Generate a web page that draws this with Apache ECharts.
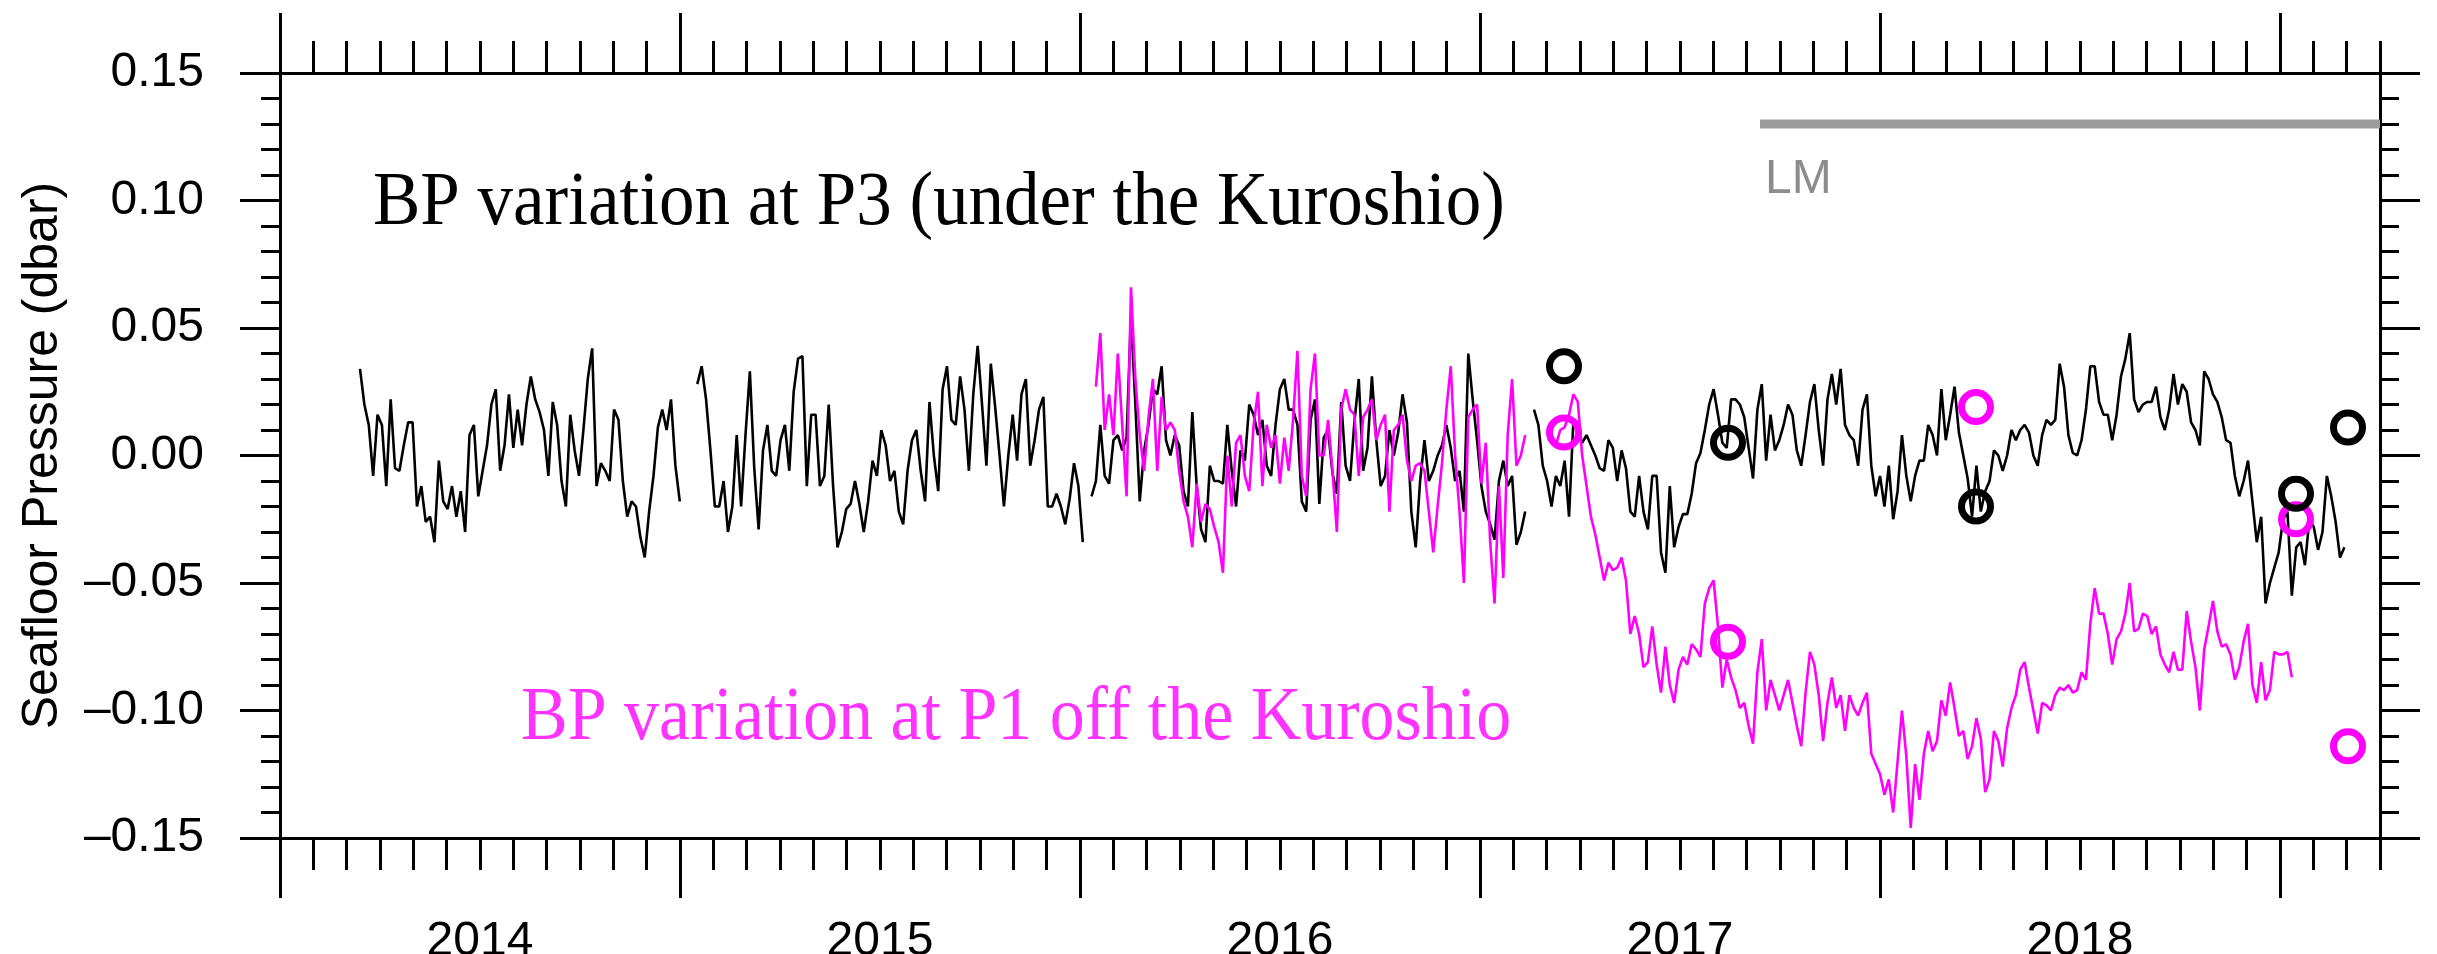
<!DOCTYPE html>
<html>
<head>
<meta charset="utf-8">
<title>Seafloor pressure at P1 and P3</title>
<script src="https://cdn.jsdelivr.net/npm/echarts@6/dist/echarts.min.js"></script>
<style>
  html, body { margin: 0; padding: 0; background: #ffffff; }
  #chart { width: 2437px; height: 954px; }
</style>
</head>
<body>
<div id="chart"></div>
<script>
// Bottom-pressure records (dbar), one sample every 4 days.
const SERIES_START = 2014.2;   // decimal year of the first P3 sample
const STEP_DAYS = 4;
const P1_START_INDEX = 168;    // P1 starts this many steps after P3

// P3, under the Kuroshio (null = no data)
const p3Values = [
  0.034, 0.020, 0.012, -0.008, 0.016, 0.012, -0.012, 0.022, -0.005, -0.006,
  0.004, 0.013, 0.013, -0.020, -0.012, -0.026, -0.024, -0.034, -0.002, -0.018,
  -0.021, -0.012, -0.024, -0.014, -0.030, 0.008, 0.012, -0.016, -0.006, 0.004,
  0.020, 0.026, -0.006, 0.004, 0.024, 0.003, 0.018, 0.004, 0.020, 0.031,
  0.022, 0.017, 0.010, -0.008, 0.021, 0.012, -0.010, -0.020, 0.016, 0.002,
  -0.008, 0.010, 0.030, 0.042, -0.012, -0.003, -0.006, -0.010, 0.018, 0.014,
  -0.010, -0.024, -0.018, -0.020, -0.032, -0.040, -0.022, -0.008, 0.011, 0.018,
  0.010, 0.022, -0.004, -0.018, null, null, null, 0.028, 0.035, 0.022,
  0.002, -0.020, -0.020, -0.010, -0.030, -0.020, 0.008, -0.020, 0.008, 0.033,
  -0.005, -0.029, 0.002, 0.012, -0.006, -0.008, 0.006, 0.012, -0.006, 0.025,
  0.038, 0.039, -0.012, 0.016, 0.016, -0.012, -0.008, 0.020, -0.012, -0.036,
  -0.030, -0.021, -0.019, -0.010, -0.019, -0.030, -0.018, -0.002, -0.008, 0.010,
  0.004, -0.010, -0.006, -0.022, -0.027, -0.006, 0.006, 0.010, -0.006, -0.018,
  0.021, 0.000, -0.014, 0.026, 0.035, 0.014, 0.012, 0.031, 0.018, -0.006,
  0.024, 0.043, 0.020, -0.004, 0.036, 0.019, 0.000, -0.020, 0.000, 0.016,
  -0.002, 0.024, 0.030, -0.004, 0.006, 0.018, 0.023, -0.020, -0.020, -0.015,
  -0.020, -0.027, -0.017, -0.003, -0.012, -0.034, null, -0.016, -0.010, 0.012,
  -0.008, -0.011, 0.006, 0.008, 0.002, 0.007, 0.055, 0.020, -0.018, 0.002,
  0.012, 0.026, 0.024, 0.035, 0.006, 0.000, 0.008, 0.004, -0.014, -0.020,
  0.017, -0.012, -0.029, -0.034, -0.004, -0.010, -0.010, -0.011, 0.012, -0.006,
  -0.020, 0.002, -0.002, 0.020, 0.016, 0.008, 0.014, -0.004, -0.008, 0.012,
  0.026, 0.030, 0.018, 0.018, 0.012, -0.018, -0.022, 0.014, 0.022, -0.019,
  0.007, 0.010, -0.007, -0.015, 0.021, -0.004, -0.010, 0.013, 0.030, -0.006,
  0.003, 0.031, 0.006, -0.012, -0.008, 0.010, 0.000, 0.009, 0.024, 0.013,
  -0.022, -0.036, -0.010, 0.006, -0.010, -0.006, 0.000, 0.004, 0.012, 0.003,
  -0.010, -0.006, -0.022, 0.040, 0.022, 0.006, -0.012, -0.022, -0.027, -0.033,
  -0.010, -0.002, -0.012, -0.008, -0.035, -0.030, -0.022, null, 0.018, 0.012,
  -0.004, -0.010, -0.020, -0.008, -0.012, -0.002, -0.024, 0.014, 0.009, 0.005,
  0.008, 0.004, 0.000, -0.005, -0.006, 0.006, 0.003, -0.010, 0.002, -0.005,
  -0.022, -0.024, -0.008, -0.022, -0.029, -0.008, -0.008, -0.038, -0.046, -0.012,
  -0.036, -0.028, -0.023, -0.023, -0.015, -0.003, 0.001, 0.010, 0.020, 0.026,
  0.016, 0.005, 0.003, 0.022, 0.022, 0.020, 0.015, 0.003, -0.009, 0.018,
  0.028, -0.002, 0.016, 0.002, 0.006, 0.012, 0.020, 0.016, 0.002, -0.004,
  0.008, 0.021, 0.028, 0.010, -0.004, 0.022, 0.032, 0.020, 0.034, 0.012,
  0.008, 0.006, -0.004, 0.018, 0.024, -0.004, -0.016, -0.008, -0.020, -0.004,
  -0.025, -0.014, 0.008, -0.008, -0.018, -0.008, -0.002, -0.002, 0.012, 0.008,
  0.000, 0.026, 0.006, 0.016, 0.027, 0.009, 0.000, -0.009, -0.024, -0.004,
  -0.022, -0.014, -0.010, 0.002, 0.000, -0.006, 0.000, 0.010, 0.006, 0.010,
  0.012, 0.009, 0.000, -0.004, 0.008, 0.014, 0.012, 0.014, 0.036, 0.027,
  0.008, 0.001, 0.000, 0.006, 0.018, 0.035, 0.035, 0.021, 0.016, 0.016,
  0.006, 0.016, 0.031, 0.038, 0.048, 0.022, 0.017, 0.020, 0.021, 0.021,
  0.027, 0.015, 0.010, 0.018, 0.032, 0.020, 0.028, 0.025, 0.013, 0.010,
  0.004, 0.033, 0.030, 0.024, 0.021, 0.015, 0.006, 0.005, -0.008, -0.016,
  -0.010, -0.002, -0.018, -0.034, -0.024, -0.058, -0.050, -0.044, -0.038, -0.025,
  -0.022, -0.055, -0.036, -0.034, -0.043, -0.025, -0.028, -0.037, -0.030, -0.008,
  -0.016, -0.026, -0.040, -0.036
];

// P1, off the Kuroshio (null = no data)
const p1Values = [
  0.027, 0.048, 0.010, 0.024, 0.008, 0.040, 0.012, -0.016, 0.066, 0.030,
  0.008, -0.006, 0.015, 0.030, -0.006, 0.023, 0.010, 0.013, 0.010, -0.006,
  -0.018, -0.024, -0.036, -0.011, -0.026, -0.019, -0.021, -0.028, -0.034, -0.046,
  0.000, -0.020, 0.005, 0.008, -0.008, -0.014, 0.012, 0.025, -0.012, 0.012,
  0.003, 0.008, -0.011, 0.007, -0.006, 0.014, 0.041, -0.008, -0.016, 0.026,
  0.040, 0.000, 0.000, 0.014, -0.006, -0.030, 0.018, 0.026, 0.018, 0.016,
  -0.008, 0.015, 0.018, 0.022, 0.006, 0.012, 0.016, -0.022, 0.010, 0.012,
  0.016, -0.002, -0.010, -0.004, -0.003, -0.006, -0.022, -0.038, -0.020, -0.003,
  0.018, 0.035, 0.000, -0.022, -0.050, 0.015, 0.018, 0.020, -0.011, 0.005,
  -0.034, -0.058, -0.012, -0.048, 0.008, 0.030, -0.004, 0.000, 0.008, null,
  null, null, null, 0.010, 0.008, 0.004, 0.010, 0.011, 0.016, 0.024,
  0.021, 0.000, -0.012, -0.024, -0.031, -0.040, -0.049, -0.042, -0.045, -0.044,
  -0.040, -0.049, -0.070, -0.063, -0.070, -0.083, -0.081, -0.067, -0.082, -0.093,
  -0.075, -0.090, -0.097, -0.084, -0.079, -0.082, -0.074, -0.076, -0.079, -0.058,
  -0.052, -0.049, -0.067, -0.091, -0.080, -0.087, -0.092, -0.099, -0.097, -0.106,
  -0.113, -0.085, -0.072, -0.100, -0.088, -0.094, -0.100, -0.094, -0.088, -0.097,
  -0.106, -0.114, -0.093, -0.077, -0.082, -0.094, -0.112, -0.097, -0.087, -0.099,
  -0.094, -0.108, -0.094, -0.099, -0.102, -0.097, -0.093, -0.117, -0.121, -0.125,
  -0.133, -0.127, -0.140, -0.120, -0.100, -0.118, -0.146, -0.121, -0.135, -0.117,
  -0.108, -0.116, -0.112, -0.096, -0.102, -0.089, -0.099, -0.110, -0.108, -0.119,
  -0.114, -0.103, -0.111, -0.132, -0.127, -0.108, -0.112, -0.122, -0.107, -0.099,
  -0.094, -0.084, -0.081, -0.091, -0.100, -0.109, -0.097, -0.098, -0.100, -0.094,
  -0.091, -0.092, -0.090, -0.093, -0.092, -0.085, -0.088, -0.066, -0.052, -0.062,
  -0.062, -0.070, -0.082, -0.072, -0.069, -0.062, -0.050, -0.069, -0.068, -0.062,
  -0.063, -0.070, -0.067, -0.078, -0.082, -0.085, -0.077, -0.084, -0.084, -0.061,
  -0.073, -0.083, -0.100, -0.076, -0.067, -0.057, -0.069, -0.075, -0.074, -0.078,
  -0.088, -0.083, -0.073, -0.066, -0.090, -0.097, -0.081, -0.096, -0.092, -0.077,
  -0.078, -0.078, -0.077, -0.087
];

// Shipboard survey reference values (circles)
const surveyYears = [2017.21, 2017.62, 2018.24, 2019.04, 2019.17];
const p3Survey = [0.035, 0.005, -0.020, -0.015, 0.011];
const p1Survey = [0.009, -0.073, 0.019, -0.025, -0.114];

// Kuroshio large-meander period
const lmSpan = [2017.70, 2019.25];
const lmLevel = 0.13;

// Axis extents and labels
const xRange = [2014, 2019.25];
const yRange = [-0.15, 0.15];
const yearLabels = [2014, 2015, 2016, 2017, 2018];

const SANS = '"Liberation Sans", Arial, Helvetica, sans-serif';
const SERIF = '"Liberation Serif", "Times New Roman", serif';

function toTime(index) {
  return SERIES_START + index * STEP_DAYS / 365.25;
}
function buildSeries(values, offset) {
  return values.map((v, i) => [toTime(offset + i), v === null ? '-' : v]);
}

const yearTicks = [];
for (let y = xRange[0]; y <= Math.floor(xRange[1]); y++) yearTicks.push(y);
const monthTicks = [];
for (let k = 0; xRange[0] + k / 12 <= xRange[1] + 1e-9; k++) monthTicks.push(xRange[0] + k / 12);
const yearLabelPos = yearLabels.map(y => y + 0.5);

const black = '#000000';
const magenta = '#ff00ff';

function xAxisCfg(grid, pos, ticks, len, withLabels, withLine) {
  return {
    gridIndex: grid, type: 'value', position: pos,
    min: xRange[0], max: xRange[1],
    axisLine: { show: withLine, onZero: false, lineStyle: { color: black, width: 3 } },
    axisTick: { show: true, inside: false, length: len, customValues: ticks,
                lineStyle: { color: black, width: 3 } },
    axisLabel: withLabels ? {
      show: true, customValues: yearLabelPos, margin: 80,
      formatter: v => String(Math.floor(v)),
      fontFamily: SANS, fontSize: 48, color: black
    } : { show: false },
    splitLine: { show: false }
  };
}

function yAxisCfg(pos, withLabels) {
  const cfg = {
    gridIndex: 0, type: 'value', position: pos,
    min: yRange[0], max: yRange[1], interval: 0.05,
    axisLine: { show: true, onZero: false, lineStyle: { color: black, width: 3 } },
    axisTick: { show: true, inside: false, length: 40, lineStyle: { color: black, width: 3 } },
    minorTick: { show: true, splitNumber: 5, length: 19, lineStyle: { color: black, width: 3 } },
    splitLine: { show: false },
    minorSplitLine: { show: false },
    axisLabel: withLabels ? {
      show: true, margin: 76, fontFamily: SANS, fontSize: 48, color: black,
      formatter: v => (v < -1e-9 ? '\u2013' : '') + Math.abs(v).toFixed(2)
    } : { show: false }
  };
  if (withLabels) {
    cfg.name = 'Seafloor Pressure (dbar)';
    cfg.nameLocation = 'middle';
    cfg.nameGap = 212;
    cfg.nameTextStyle = { fontFamily: SANS, fontSize: 50, color: black };
  }
  return cfg;
}

// Plot frame in pixels; labels are allowed to reach the canvas edge
const gridRect = { left: 280, right: 57, top: 73, bottom: 116, containLabel: false, outerBoundsMode: 'none' };

const option = {
  animation: false,
  backgroundColor: '#ffffff',
  grid: [Object.assign({}, gridRect), Object.assign({}, gridRect)],
  xAxis: [
    xAxisCfg(0, 'bottom', yearTicks, 60, true, true),
    xAxisCfg(0, 'top', yearTicks, 60, false, true),
    xAxisCfg(1, 'bottom', monthTicks, 32, false, false),
    xAxisCfg(1, 'top', monthTicks, 32, false, false)
  ],
  yAxis: [
    yAxisCfg('left', true),
    yAxisCfg('right', false),
    { gridIndex: 1, type: 'value', min: yRange[0], max: yRange[1], show: false }
  ],
  graphic: [
    { type: 'text', x: 373, y: 166, z: 10, scaleY: 1.08,
      style: { text: 'BP variation at P3 (under the Kuroshio)', font: '71px ' + SERIF, fill: black } },
    { type: 'text', x: 521, y: 681, z: 10, scaleY: 1.08,
      style: { text: 'BP variation at P1 off the Kuroshio', font: '70px ' + SERIF, fill: '#ff33ff' } },
    { type: 'text', x: 1765, y: 156, z: 10,
      style: { text: 'LM', font: '48px ' + SANS, fill: '#8c8c8c' } }
  ],
  series: [
    {
      name: 'LM', type: 'line', xAxisIndex: 0, yAxisIndex: 0,
      data: [[lmSpan[0], lmLevel], [lmSpan[1], lmLevel]],
      symbol: 'none', lineStyle: { color: '#9c9c9c', width: 9, cap: 'butt' }, z: 1
    },
    {
      name: 'P3', type: 'line', xAxisIndex: 0, yAxisIndex: 0,
      data: buildSeries(p3Values, 0),
      symbol: 'none', connectNulls: false,
      lineStyle: { color: black, width: 2.6 }, z: 2
    },
    {
      name: 'P1', type: 'line', xAxisIndex: 0, yAxisIndex: 0,
      data: buildSeries(p1Values, P1_START_INDEX),
      symbol: 'none', connectNulls: false,
      lineStyle: { color: magenta, width: 2.6 }, z: 3
    },
    {
      name: 'P1 survey', type: 'scatter', xAxisIndex: 0, yAxisIndex: 0,
      data: surveyYears.map((t, i) => [t, p1Survey[i]]),
      symbol: 'circle', symbolSize: 29,
      itemStyle: { color: 'rgba(0,0,0,0)', borderColor: magenta, borderWidth: 7, opacity: 1 },
      z: 4
    },
    {
      name: 'P3 survey', type: 'scatter', xAxisIndex: 0, yAxisIndex: 0,
      data: surveyYears.map((t, i) => [t, p3Survey[i]]),
      symbol: 'circle', symbolSize: 29,
      itemStyle: { color: 'rgba(0,0,0,0)', borderColor: black, borderWidth: 7, opacity: 1 },
      z: 5
    }
  ]
};

const chart = echarts.init(document.getElementById('chart'), null, { renderer: 'canvas' });
chart.setOption(option);
</script>
</body>
</html>
